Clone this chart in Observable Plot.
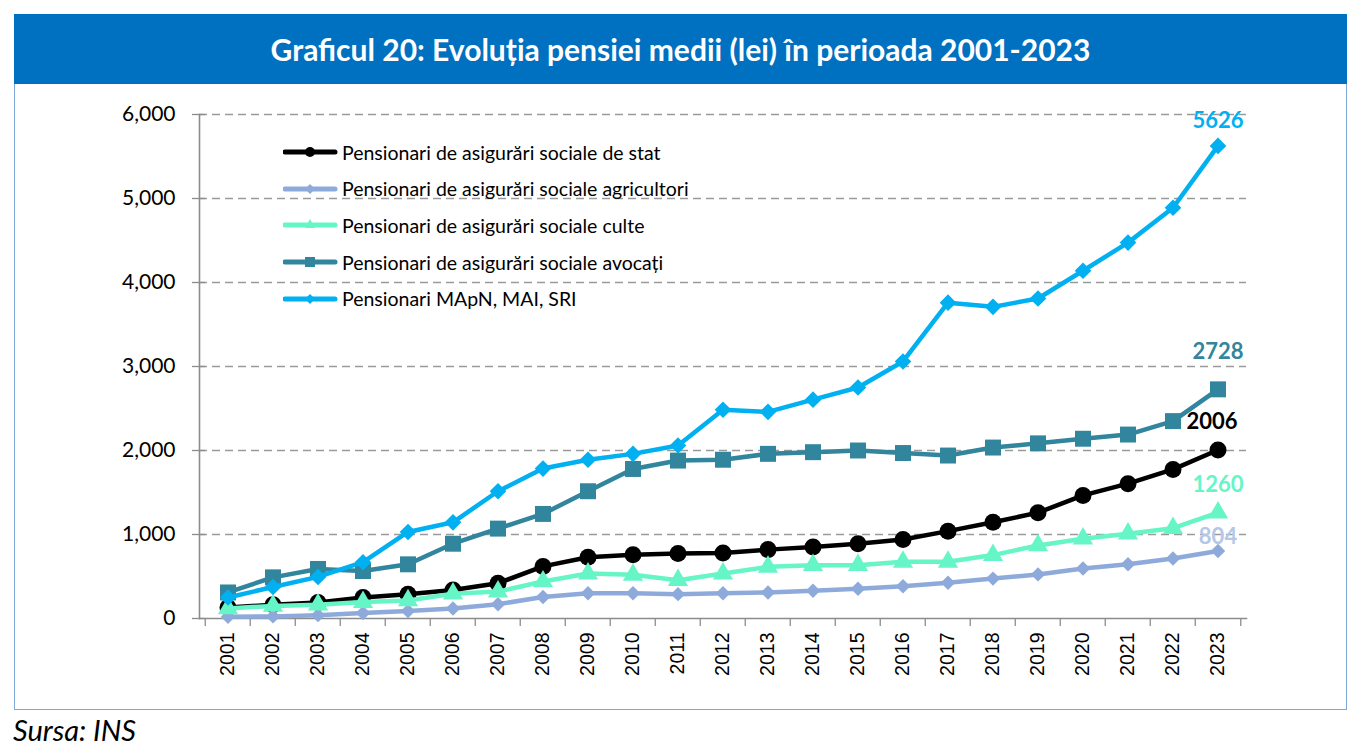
<!DOCTYPE html>
<html><head><meta charset="utf-8">
<script src="https://cdn.jsdelivr.net/npm/d3@7"></script>
<script src="https://cdn.jsdelivr.net/npm/@observablehq/plot@0.6"></script>
<style>
body{margin:0;background:#fff;width:1358px;height:750px;position:relative;overflow:hidden;}
#banner{position:absolute;left:14px;top:14px;width:1333px;height:70px;background:#0070c0;color:#fff;font:bold 30px Lato,sans-serif;display:flex;align-items:center;justify-content:center;}
#box{position:absolute;left:14px;top:84px;width:1331px;height:625px;border:1px solid #7ea6d8;border-top:none;}
#chart{position:absolute;left:0;top:0;}
#legend{position:absolute;left:268px;top:50px;font:19.5px Lato,sans-serif;color:#000;}
.row{display:flex;align-items:center;height:36.6px;}
.row svg{margin-right:3px;}
#caption{position:absolute;left:13px;top:712px;font:italic 29px Lato,sans-serif;color:#000;}
</style></head>
<body>
<div id="banner">Graficul 20: Evoluția pensiei medii (lei) în perioada 2001-2023</div>
<div id="box"><div id="chart"></div><div id="legend"></div></div>
<div id="caption">Sursa: INS</div>
<script>
const years = [2001,2002,2003,2004,2005,2006,2007,2008,2009,2010,2011,2012,2013,2014,2015,2016,2017,2018,2019,2020,2021,2022,2023];
const seriesNames = [
  "Pensionari de asigurări sociale de stat",
  "Pensionari de asigurări sociale agricultori",
  "Pensionari de asigurări sociale culte",
  "Pensionari de asigurări sociale avocați",
  "Pensionari MApN, MAI, SRI"
];
const stat        = [130,165,190,250,290,340,420,620,730,760,775,780,820,850,890,940,1040,1145,1260,1465,1605,1775,2006];
const agricultori = [20,25,40,65,90,120,170,255,300,300,290,300,310,330,355,385,425,475,525,595,645,715,804];
const culte       = [120,150,165,195,215,295,320,440,535,520,455,535,615,635,635,675,675,755,870,950,1010,1075,1260];
const avocati     = [310,490,590,565,645,890,1070,1245,1515,1780,1880,1890,1960,1980,2000,1970,1940,2035,2085,2140,2190,2350,2728];
const mapn        = [250,375,495,670,1030,1145,1515,1785,1890,1960,2060,2485,2460,2605,2750,3060,3760,3710,3810,4140,4475,4890,5626];
const yTicks = [0,1000,2000,3000,4000,5000,6000];

const seriesValues = [stat, agricultori, culte, avocati, mapn];
const colors = ["#000000","#8eaadb","#66f5c6","#31859c","#00b0f0"];
const labelColors = ["#000000","#b4c7e7","#66f5c6","#31859c","#00b0f0"];
const symbols = ["circle","diamond2","triangle","square","diamond2"];
const radii = [8.5,6.5,7.5,9,7.5];
const labelDx = [-6,0,0,0,0];
const labelDy = [-28,-14,-28,-37,-25];

const table = [];
seriesNames.forEach((s,i)=>years.forEach((y,j)=>table.push({series:s, year:y, value:seriesValues[i][j]})));

const W = 1331, H = 625, ML = 184, MR = 100, MT = 30, MB = 91;
const bw = (W - ML - MR) / years.length;
const axisColor = "#8c8c8c";

const marks = [
  Plot.ruleY(yTicks.filter(d=>d>0), {stroke:"#9a9a9a", strokeDasharray:"8,5", strokeWidth:1.3}),
  Plot.axisY({ticks:yTicks, tickFormat:d3.format(","), tickSize:13, dx:6, tickPadding:17, fontSize:21, fontFamily:"Lato", stroke:axisColor, strokeWidth:1.3, label:null}),
  Plot.axisX({tickSize:0, tickRotate:-90, tickPadding:14, fontSize:19.5, fontFamily:"Liberation Sans", tickFormat:d=>String(d), label:null}),
  Plot.axisX({tickSize:8, tickFormat:()=>"", dx:-bw/2, stroke:axisColor, strokeWidth:1.3, label:null}),
  Plot.axisX([years[years.length-1]], {tickSize:8, tickFormat:()=>"", dx:bw/2, stroke:axisColor, strokeWidth:1.3, label:null}),
  Plot.frame({anchor:"left", stroke:axisColor, strokeWidth:1.6}),
  Plot.frame({anchor:"bottom", stroke:axisColor, strokeWidth:1.6})
];
seriesNames.forEach((s,i)=>{
  const data = table.filter(d=>d.series===s);
  marks.push(Plot.line(data, {x:"year", y:"value", stroke:colors[i], strokeWidth:4.5}));
  marks.push(Plot.dot(data, {x:"year", y:"value", symbol:symbols[i], fill:colors[i], stroke:"none", r:radii[i]}));
});
seriesNames.forEach((s,i)=>{
  const last = table.filter(d=>d.series===s).slice(-1);
  marks.push(Plot.text(last, {x:"year", y:"value", text:d=>String(d.value), fill:labelColors[i], fontWeight:"bold", fontSize:22, fontFamily:"Lato", dx:labelDx[i], dy:labelDy[i]}));
});

const chart = Plot.plot({
  width:W, height:H, marginLeft:ML, marginRight:MR, marginTop:MT, marginBottom:MB,
  style:{fontFamily:"Lato", color:"#000", background:"transparent", overflow:"visible"},
  x:{type:"band", domain:years, padding:0, axis:null, label:null},
  y:{domain:[0,6000], axis:null, label:null},
  marks
});
document.getElementById("chart").appendChild(chart);

const legend = document.getElementById("legend");
seriesNames.forEach((s,i)=>{
  const row = document.createElement("div");
  row.className = "row";
  const sym = symbols[i];
  let m = "";
  const c = colors[i];
  if (sym==="circle") m = `<circle cx="27" cy="9" r="5" fill="${c}"/>`;
  else if (sym==="square") m = `<rect x="22" y="4" width="10" height="10" fill="${c}"/>`;
  else if (sym==="triangle") m = `<path d="M27,3 L32,12 L22,12Z" fill="${c}"/>`;
  else m = `<path d="M27,4 L32,9 L27,14 L22,9Z" fill="${c}"/>`;
  row.innerHTML = `<svg width="56" height="18"><line x1="2" y1="9" x2="52" y2="9" stroke="${c}" stroke-width="5" stroke-linecap="round"/>${m}</svg><span>${s}</span>`;
  legend.appendChild(row);
});
</script>
</body></html>
